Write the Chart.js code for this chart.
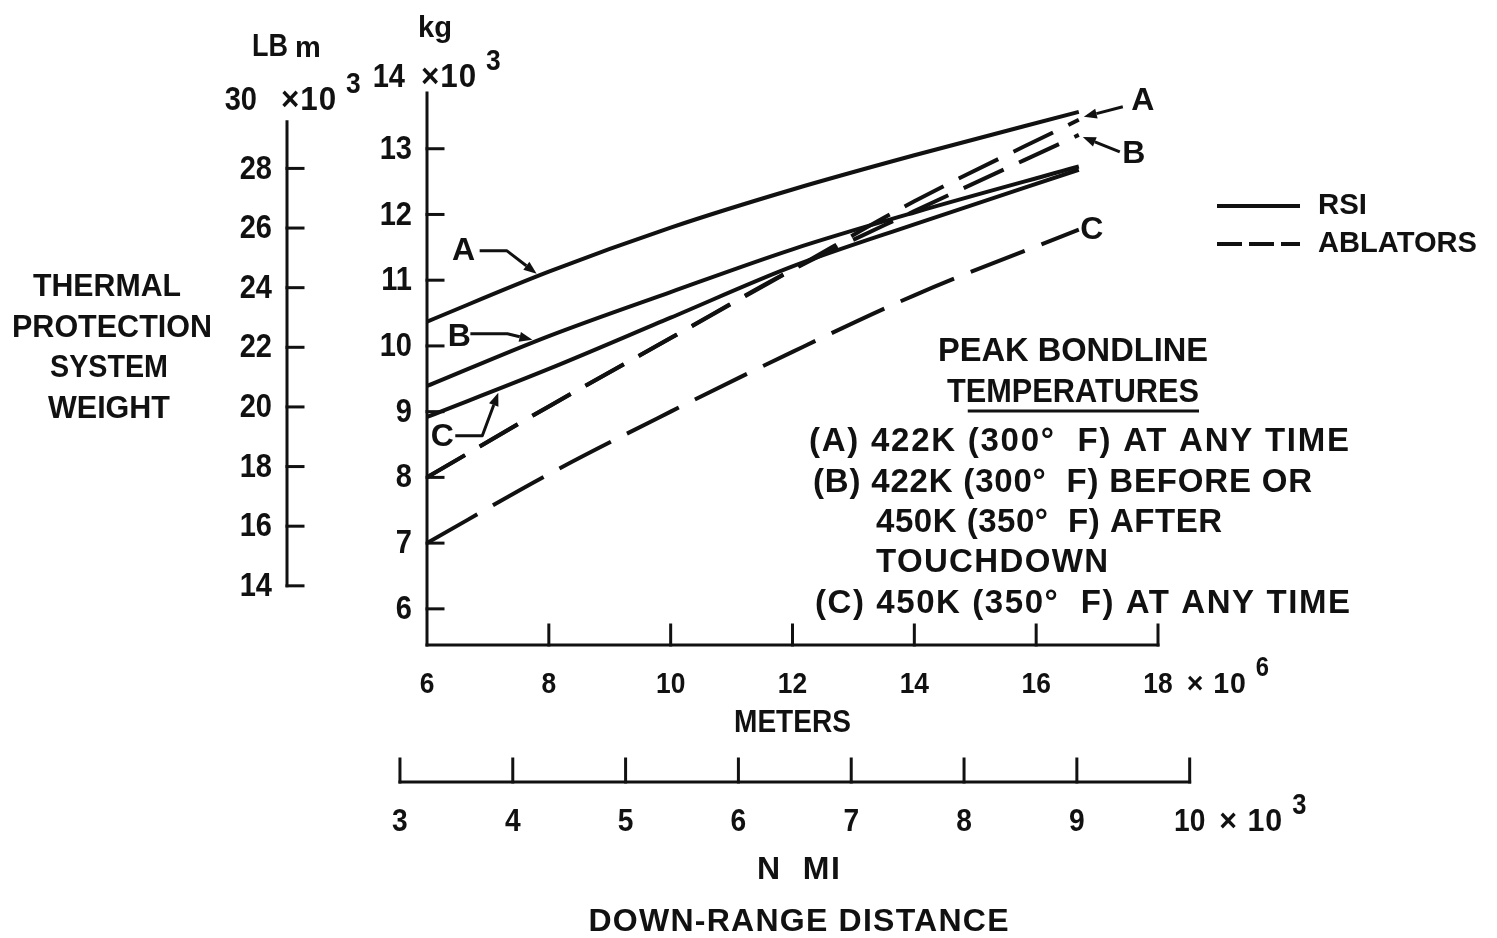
<!DOCTYPE html>
<html>
<head>
<meta charset="utf-8">
<script src="https://cdn.jsdelivr.net/npm/chart.js@4.4.1/dist/chart.umd.min.js"></script>
<style>
  html, body { margin: 0; padding: 0; background: #ffffff; }
  canvas { display: block; }
</style>
</head>
<body>
<canvas id="tps" width="1497" height="938"></canvas>
<script>
// Thermal protection system weight (10^3 kg) against down-range distance (10^6 m)
const rsiA_m  = [6, 8, 10, 12, 14, 16.7];
const rsiA_kg = [10.37, 11.13, 11.80, 12.38, 12.90, 13.56];
const rsiB_m  = [6, 8, 10, 12, 14, 16.7];
const rsiB_kg = [9.39, 10.15, 10.82, 11.47, 12.03, 12.73];
const rsiC_m  = [6, 8, 10, 12, 14, 16.7];
const rsiC_kg = [8.92, 9.65, 10.43, 11.21, 11.85, 12.68];
const ablA_m  = [6, 8, 10, 12, 14, 16.7];
const ablA_kg = [8.00, 9.08, 10.12, 11.16, 12.20, 13.44];
const ablB_m  = [6, 8, 10, 12, 14, 16.7];
const ablB_kg = [8.00, 9.08, 10.12, 11.16, 12.05, 13.21];
const ablC_m  = [6, 8, 10, 12, 14, 16.7];
const ablC_kg = [7.00, 8.05, 9.00, 9.91, 10.77, 11.77];

// Axis ticks
const meterTicks = [6, 8, 10, 12, 14, 16, 18];           // 10^6 m
const kgTicks    = [6, 7, 8, 9, 10, 11, 12, 13, 14];      // 10^3 kg
const lbTicks    = [14, 16, 18, 20, 22, 24, 26, 28, 30];  // 10^3 lbm
const nmiTicks   = [3, 4, 5, 6, 7, 8, 9, 10];             // 10^3 n mi

// Text
const weightTitle = ['THERMAL', 'PROTECTION', 'SYSTEM', 'WEIGHT'];
const noteHeading = ['PEAK BONDLINE', 'TEMPERATURES'];
const noteLines = [
  '(A) 422K (300\u00B0  F) AT ANY TIME',
  '(B) 422K (300\u00B0  F) BEFORE OR',
  '450K (350\u00B0  F) AFTER',
  'TOUCHDOWN',
  '(C) 450K (350\u00B0  F) AT ANY TIME'
];
const legendLabels = ['RSI', 'ABLATORS'];

const KG_PER_LB = 0.45359237;
const M_PER_NMI = 1852;
const INK = '#111111';
const FONT = '"Liberation Sans", Arial, sans-serif';

function pts(xs, ys) { return xs.map((x, i) => ({ x: x, y: ys[i] })); }

function interp(xs, ys, x) {
  for (let i = 1; i < xs.length; i++) {
    if (x <= xs[i]) {
      const t = (x - xs[i - 1]) / (xs[i] - xs[i - 1]);
      return ys[i - 1] + t * (ys[i] - ys[i - 1]);
    }
  }
  return ys[ys.length - 1];
}

function natural(ctx, str, size) {
  ctx.save();
  ctx.font = `bold ${size}px ${FONT}`;
  ctx.letterSpacing = '0px';
  const w = ctx.measureText(str).width;
  ctx.restore();
  return w;
}

// Draws bold lettering; sx squeezes horizontally, spacing opens the letters up.
// Returns the drawn width.
function draw(ctx, str, x, y, size, align, sx, spacing) {
  sx = sx || 1; spacing = spacing || 0;
  const total = (natural(ctx, str, size) + spacing * (str.length - 1)) * sx;
  const left = align === 'center' ? x - total / 2 : (align === 'right' ? x - total : x);
  ctx.save();
  ctx.font = `bold ${size}px ${FONT}`;
  ctx.letterSpacing = spacing + 'px';
  ctx.fillStyle = INK;
  ctx.textAlign = 'left';
  ctx.textBaseline = 'middle';
  ctx.translate(left, y);
  ctx.scale(sx, 1);
  ctx.fillText(str, 0, 0);
  ctx.restore();
  return total;
}

// Lettering set to a given width
function fit(ctx, str, x, y, size, align, width) {
  const w = natural(ctx, str, size);
  if (w > width || str.length < 2) return draw(ctx, str, x, y, size, align, Math.min(1, width / w), 0);
  return draw(ctx, str, x, y, size, align, 1, (width - w) / (str.length - 1));
}

const NUM_SX = 0.88;
function num(ctx, str, x, y, size, align) { return draw(ctx, str, x, y, size, align, NUM_SX, 0); }

// Label such as "18 × 10^6": mantissa placed like an ordinary tick label, multiplier after it
function powerLabel(ctx, mant, mult, exp, x, y, size, align, gap, expGap) {
  const w = natural(ctx, mant, size) * NUM_SX;
  num(ctx, mant, x, y, size, align);
  const right = align === 'right' ? x : (align === 'center' ? x + w / 2 : x + w);
  const mx = right + gap;
  const mw = draw(ctx, mult, mx, y, size, 'left', 0.95, 1);
  num(ctx, exp, mx + mw + expGap, y - 16, Math.round(size * 0.9), 'left');
}

function line(ctx, x1, y1, x2, y2, w) {
  ctx.beginPath();
  ctx.moveTo(x1, y1);
  ctx.lineTo(x2, y2);
  ctx.lineWidth = w;
  ctx.stroke();
}

function arrow(ctx, path) {
  ctx.save();
  ctx.strokeStyle = INK;
  ctx.fillStyle = INK;
  ctx.lineWidth = 3;
  ctx.lineJoin = 'round';
  const n = path.length;
  const [x1, y1] = path[n - 2];
  const [x2, y2] = path[n - 1];
  const a = Math.atan2(y2 - y1, x2 - x1);
  const L = 13, W = 5;
  const bx = x2 - L * Math.cos(a), by = y2 - L * Math.sin(a);
  ctx.beginPath();
  ctx.moveTo(path[0][0], path[0][1]);
  for (let i = 1; i < n - 1; i++) ctx.lineTo(path[i][0], path[i][1]);
  ctx.lineTo(bx, by);
  ctx.stroke();
  ctx.beginPath();
  ctx.moveTo(x2, y2);
  ctx.lineTo(bx - W * Math.sin(a), by + W * Math.cos(a));
  ctx.lineTo(bx + W * Math.sin(a), by - W * Math.cos(a));
  ctx.closePath();
  ctx.fill();
  ctx.restore();
}

// Curve callouts: anchor on a curve, label and leader offsets in pixels from it
const callouts = [
  { label: 'A', xs: rsiA_m, ys: rsiA_kg, at: 7.8,  text: [-73, -25], path: [[-57, -26], [-30, -26], [0, -3]] },
  { label: 'B', xs: rsiB_m, ys: rsiB_kg, at: 7.73, text: [-73, -6],  path: [[-62, -9], [-25, -9], [0, -3]] },
  { label: 'C', xs: rsiC_m, ys: rsiC_kg, at: 7.17, text: [-56, 48],  path: [[-43, 47], [-16, 47], [0, 4]] },
  { label: 'A', xs: ablA_m, ys: ablA_kg, at: 16.7, text: [64, -19],  path: [[44, -13], [5, -3]] },
  { label: 'B', xs: ablB_m, ys: ablB_kg, at: 16.7, text: [55, 19],   path: [[41, 17], [4, 2]] },
  { label: 'C', xs: ablC_m, ys: ablC_kg, at: 16.7, text: [13, 1],    path: null }
];

const paperPlugin = {
  id: 'paperAxes',
  beforeDatasetsDraw(chart) {
    const ctx = chart.ctx;
    const x = chart.scales.x, y = chart.scales.y;
    const lb = chart.scales.yLb, nmi = chart.scales.xNmi;
    const area = chart.chartArea;
    ctx.save();
    ctx.strokeStyle = INK;
    ctx.lineCap = 'square';

    // kg axis
    const kgTop = y.getPixelForValue(14) + 10;
    line(ctx, area.left, area.bottom, area.left, kgTop, 3);
    kgTicks.forEach(v => {
      const py = y.getPixelForValue(v);
      if (v < 14) {
        line(ctx, area.left, py, area.left + 16, py, 3);
        num(ctx, String(v), area.left - 15, py + 1, 33, 'right');
      } else {
        powerLabel(ctx, String(v), '\u00D710', '3', area.left - 22, py - 5, 33, 'right', 16, 10);
      }
    });
    fit(ctx, 'kg', area.left + 8, 29, 30, 'center', 34);

    // meters axis
    line(ctx, area.left, area.bottom, area.right, area.bottom, 3);
    meterTicks.forEach(v => {
      const px = x.getPixelForValue(v);
      if (v > 6) line(ctx, px, area.bottom, px, area.bottom - 20, 3);
      if (v < 18) num(ctx, String(v), px, area.bottom + 40, 30, 'center');
      else powerLabel(ctx, String(v), '\u00D7 10', '6', px, area.bottom + 40, 30, 'center', 14, 10);
    });
    fit(ctx, 'METERS', x.getPixelForValue(12), area.bottom + 78, 32, 'center', 117);

    // lbm axis
    const lbX = 287;
    const lbTop = lb.getPixelForValue(30) + 13;
    line(ctx, lbX, lb.getPixelForValue(14), lbX, lbTop, 3);
    lbTicks.forEach(v => {
      const py = lb.getPixelForValue(v);
      if (v < 30) {
        line(ctx, lbX, py, lbX + 16, py, 3);
        num(ctx, String(v), lbX - 15, py + 1, 33, 'right');
      } else {
        powerLabel(ctx, String(v), '\u00D710', '3', lbX - 30, py - 8, 33, 'right', 24, 10);
      }
    });
    fit(ctx, 'LB', 270, 47, 31, 'center', 36);
    fit(ctx, 'm', 308, 49, 29, 'center', 26);

    // nautical miles axis
    const nmiY = 782;
    line(ctx, nmi.getPixelForValue(3), nmiY, nmi.getPixelForValue(10), nmiY, 3);
    nmiTicks.forEach(v => {
      const px = nmi.getPixelForValue(v);
      line(ctx, px, nmiY, px, nmiY - 23, 3);
      if (v < 10) num(ctx, String(v), px, nmiY + 40, 32, 'center');
      else powerLabel(ctx, String(v), '\u00D7 10', '3', px, nmiY + 40, 32, 'center', 14, 10);
    });
    fit(ctx, 'N  MI', x.getPixelForValue(12) + 6, 870, 32, 'center', 83);
    fit(ctx, 'DOWN-RANGE DISTANCE', x.getPixelForValue(12) + 6, 922, 32, 'center', 420);

    // weight title
    const titleX = [107, 112, 109, 109];
    const titleW = [148, 200, 118, 122];
    weightTitle.forEach((s, i) => fit(ctx, s, titleX[i], 287 + i * 40.7, 32, 'center', titleW[i]));
    ctx.restore();
  },
  afterDraw(chart) {
    const ctx = chart.ctx;
    const x = chart.scales.x, y = chart.scales.y;

    // callouts
    callouts.forEach(c => {
      const ax = x.getPixelForValue(c.at);
      const ay = y.getPixelForValue(interp(c.xs, c.ys, c.at));
      draw(ctx, c.label, ax + c.text[0], ay + c.text[1], 32, 'center');
      if (c.path) arrow(ctx, c.path.map(p => [ax + p[0], ay + p[1]]));
    });

    // legend, styled from the datasets
    const ds = chart.data.datasets;
    ctx.save();
    ctx.strokeStyle = INK;
    ctx.lineWidth = ds[0].borderWidth;
    ctx.beginPath(); ctx.moveTo(1217, 206); ctx.lineTo(1300, 206); ctx.stroke();
    ctx.setLineDash([25, 7]);
    ctx.lineWidth = ds[3].borderWidth;
    ctx.beginPath(); ctx.moveTo(1217, 244); ctx.lineTo(1300, 244); ctx.stroke();
    ctx.restore();
    fit(ctx, legendLabels[0], 1318, 206, 30, 'left', 49);
    fit(ctx, legendLabels[1], 1318, 244, 30, 'left', 159);

    // bondline temperature note
    fit(ctx, noteHeading[0], 1073, 352, 33, 'center', 270);
    const hw = fit(ctx, noteHeading[1], 1073, 393, 33, 'center', 252);
    const tw = natural(ctx, 'T', 33) * (252 / natural(ctx, noteHeading[1], 33));
    ctx.save();
    ctx.strokeStyle = INK;
    line(ctx, 1073 - hw / 2 + tw + 2, 411, 1073 + hw / 2, 411, 3);
    ctx.restore();
    const noteX = [809, 813, 876, 876, 815];
    const noteW = [540, 499, 346, 232, 535];
    const noteY = [442, 483, 523, 563, 604];
    noteLines.forEach((s, i) => fit(ctx, s, noteX[i], noteY[i], 33, 'left', noteW[i]));
  }
};

const solid = { borderColor: INK, borderWidth: 4, pointRadius: 0, fill: false,
                cubicInterpolationMode: 'monotone', borderCapStyle: 'butt' };
const dashAB = Object.assign({}, solid, { borderDash: [44, 17] });
const dashC  = Object.assign({}, solid, { borderDash: [58, 18] });

new Chart(document.getElementById('tps').getContext('2d'), {
  type: 'line',
  data: {
    datasets: [
      Object.assign({ label: 'RSI A' }, solid, { data: pts(rsiA_m, rsiA_kg) }),
      Object.assign({ label: 'RSI B' }, solid, { data: pts(rsiB_m, rsiB_kg) }),
      Object.assign({ label: 'RSI C' }, solid, { data: pts(rsiC_m, rsiC_kg) }),
      Object.assign({ label: 'Ablators A' }, dashAB, { data: pts(ablA_m, ablA_kg) }),
      Object.assign({ label: 'Ablators B' }, dashAB, { data: pts(ablB_m, ablB_kg) }),
      Object.assign({ label: 'Ablators C' }, dashC,  { data: pts(ablC_m, ablC_kg) })
    ]
  },
  options: {
    responsive: false,
    animation: false,
    devicePixelRatio: 1,
    layout: { padding: { left: 427, right: 339, top: 83, bottom: 293 } },
    plugins: { legend: { display: false }, tooltip: { enabled: false } },
    scales: {
      x:    { type: 'linear', min: 6, max: 18, display: false },
      y:    { type: 'linear', min: 5.45, max: 14, display: false },
      yLb:  { type: 'linear', position: 'left', min: 5.45 / KG_PER_LB, max: 14 / KG_PER_LB, display: false },
      xNmi: { type: 'linear', position: 'bottom', min: 6000 / M_PER_NMI, max: 18000 / M_PER_NMI, display: false }
    }
  },
  plugins: [paperPlugin]
});
</script>
</body>
</html>
